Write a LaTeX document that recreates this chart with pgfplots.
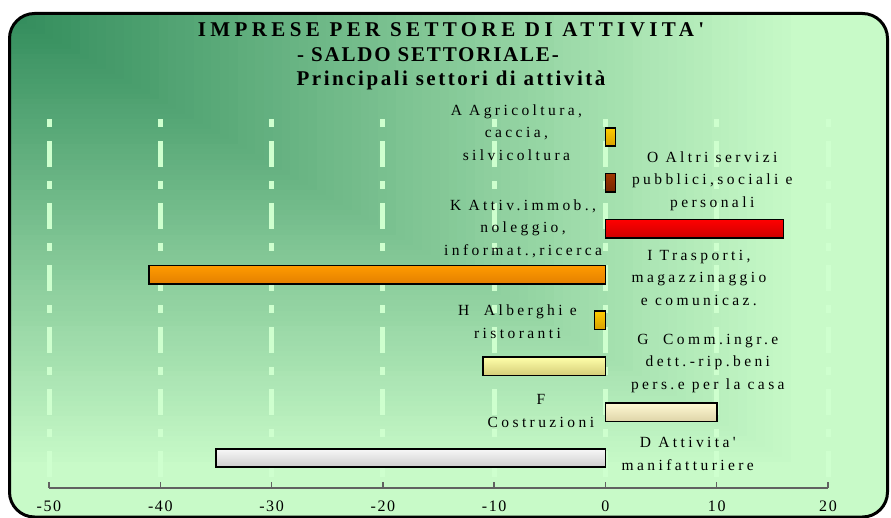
\documentclass[border=0pt]{standalone}
\usepackage{fontspec}
\setmainfont{Liberation Serif}
\newfontfamily\tA[LetterSpace=21]{Liberation Serif}
\newfontfamily\tB[LetterSpace=8.5]{Liberation Serif}
\newfontfamily\tC[LetterSpace=12]{Liberation Serif}
\newfontfamily\lbl[LetterSpace=22]{Liberation Serif}
\newfontfamily\tck[LetterSpace=10]{Liberation Serif}
\usepackage{pgfplots}
\pgfplotsset{compat=1.18}

\definecolor{bgdark}{RGB}{50,140,92}
\definecolor{bglight}{RGB}{200,250,200}
\definecolor{gridc}{RGB}{206,255,206}
\definecolor{goldT}{RGB}{255,204,0}
\definecolor{goldB}{RGB}{215,160,0}
\definecolor{brownT}{RGB}{160,55,0}
\definecolor{brownB}{RGB}{115,38,0}
\definecolor{redT}{RGB}{255,0,0}
\definecolor{redB}{RGB}{205,0,0}
\definecolor{orangeT}{RGB}{255,155,0}
\definecolor{orangeB}{RGB}{228,128,0}
\definecolor{lyelT}{RGB}{255,255,170}
\definecolor{lyelB}{RGB}{212,205,120}
\definecolor{creamT}{RGB}{255,250,212}
\definecolor{creamB}{RGB}{222,212,168}
\definecolor{greyT}{RGB}{248,248,248}
\definecolor{greyB}{RGB}{205,205,205}

\tikzset{bb/.style={xbar, bar width=18.5pt, bar shift=0pt, draw=black, line width=1.6pt}}

\begin{document}
\begin{tikzpicture}[x=1pt,y=1pt]
\useasboundingbox (0,0) rectangle (891,517);
% "from corner" background gradient
\begin{scope}
\clip[rounded corners=25pt] (9.5,0) rectangle (887.5,503.5);
\foreach \i in {100,99,...,1}{
  \pgfmathtruncatemacro\p{min(100,\i*100/90)}
  \fill[bglight!\p!bgdark] (9.5,503.5) rectangle ++(\i*8.78,-\i*5.035);
}
\end{scope}
\draw[line width=3pt, rounded corners=25pt] (9.5,0) rectangle (887.5,503.5);

\node[font=\tA\fontsize{21}{21}\selectfont\bfseries] at (451,487) {IMPRESE PER SETTORE DI ATTIVITA'};
\node[font=\tB\fontsize{21}{21}\selectfont\bfseries] at (428,462) {- SALDO SETTORIALE-};
\node[font=\tC\fontsize{21}{21}\selectfont\bfseries] at (451,437) {Principali settori di attività};

\begin{axis}[
    at={(49pt,29pt)}, anchor=south west,
    scale only axis, width=779pt, height=369pt,
    xmin=-50, xmax=20, ymin=-0.654, ymax=7.392,
    axis x line*=bottom, axis y line=none,
    xtick={-50,-40,-30,-20,-10,0,10,20},
    xtick align=inside, major tick length=6pt,
    axis line style={draw=black!62, line width=1.3pt},
    xtick style={draw=black!62, line width=1.3pt},
    xmajorgrids,
    major grid style={draw=gridc, line width=5pt, dash pattern=on 26pt off 14pt on 8pt off 14pt, dash phase=51pt},
    xticklabel style={font=\tck\fontsize{16}{16}\selectfont, anchor=north, yshift=-9pt},
    /pgf/number format/assume math mode=true,
    clip=false,
]
% A Agricoltura
\addplot[bb, top color=goldT, bottom color=goldB] coordinates {(0.9,7)};
% O Altri servizi
\addplot[bb, top color=brownT, bottom color=brownB] coordinates {(0.9,6)};
% K Attiv. immob.
\addplot[bb, top color=redT, bottom color=redB] coordinates {(16,5)};
% I Trasporti
\addplot[bb, top color=orangeT, bottom color=orangeB] coordinates {(-41,4)};
% H Alberghi
\addplot[bb, top color=goldT, bottom color=goldB] coordinates {(-1,3)};
% G Commercio
\addplot[bb, top color=lyelT, bottom color=lyelB] coordinates {(-11,2)};
% F Costruzioni
\addplot[bb, top color=creamT, bottom color=creamB] coordinates {(10,1)};
% D Manifatturiere
\addplot[bb, top color=greyT, bottom color=greyB] coordinates {(-35,0)};

\begin{scope}[every node/.style={font=\lbl\fontsize{15.5}{22.5}\selectfont, align=center}]
\node at (axis cs:-8.0,7.1) {A Agricoltura,\\caccia,\\silvicoltura};
\node at (axis cs:9.6,6.04) {O Altri servizi\\pubblici,sociali e\\personali};
\node at (axis cs:-7.4,5.0) {K Attiv.immob.,\\noleggio,\\informat.,ricerca};
\node at (axis cs:8.4,3.93) {I Trasporti,\\magazzinaggio\\e comunicaz.};
\node at (axis cs:-7.9,2.97) {H\ \ Alberghi e\\ristoranti};
\node at (axis cs:9.2,2.07) {G\ \ Comm.ingr.e\\dett.-rip.beni\\pers.e per la casa};
\node at (axis cs:-5.8,1.02) {F\\Costruzioni};
\node at (axis cs:7.4,0.09) {D Attivita'\\manifatturiere};
\end{scope}
\end{axis}
\end{tikzpicture}
\end{document}
